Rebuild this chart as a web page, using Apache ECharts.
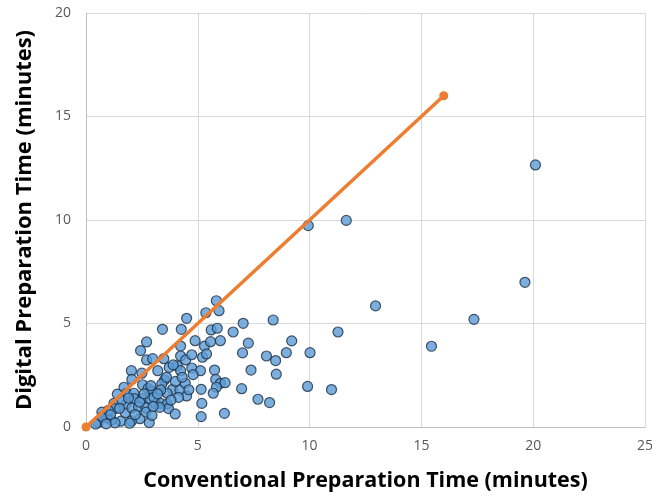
<!DOCTYPE html>
<html>
<head>
<meta charset="utf-8">
<script src="https://cdn.jsdelivr.net/npm/echarts@6/dist/echarts.min.js"></script>
<style>
  html, body { margin: 0; padding: 0; background: #fff; }
  #chart { width: 652px; height: 497px; }
</style>
</head>
<body>
<div id="chart"></div>
<script>
// conventional (x) vs digital (y) preparation time, minutes
const conventional = [
  5.83, 5.95, 5.36, 4.50, 3.42, 4.26, 7.03, 6.58, 5.60, 5.87,
  2.71, 2.44, 4.23, 4.88, 5.30, 5.57, 6.01, 7.26, 7.00, 2.71,
  2.98, 3.48, 4.23, 4.46, 4.73, 5.21, 5.39, 2.03, 3.21, 3.72,
  4.08, 4.23, 4.73, 5.12, 4.79, 5.75, 5.80, 6.01, 6.22, 5.83,
  5.69, 6.96, 2.05, 1.70, 2.53, 3.51, 3.39, 2.77, 2.95, 3.87,
  4.20, 4.44, 4.50, 4.14, 3.63, 3.34, 5.15, 5.18, 5.15, 6.19,
  2.83, 1.25, 1.40, 1.82, 2.14, 2.17, 2.53, 2.86, 3.13, 3.34,
  3.63, 3.69, 3.99, 2.41, 2.03, 1.55, 1.13, 0.71, 0.95, 0.54,
  1.76, 1.31, 1.79, 2.05, 2.35, 2.68, 2.68, 3.04, 3.30, 2.95,
  9.94, 11.64, 12.95, 15.45, 8.37, 9.20, 11.27, 8.96, 10.02, 8.07,
  8.48, 7.38, 8.51, 7.69, 8.21, 9.91, 10.98, 20.10, 19.63, 17.35,
  0.43, 0.73, 1.95, 3.00, 2.40, 1.60, 1.00, 3.60, 4.00, 4.60,
  3.90, 2.90, 1.90, 1.10, 1.50, 2.20, 2.60, 3.20, 3.80, 4.30,
  1.30, 0.90, 2.50
];
const digital = [
  6.10, 5.62, 5.52, 5.25, 4.72, 4.72, 5.01, 4.59, 4.69, 4.77,
  4.11, 3.69, 3.91, 4.17, 3.91, 4.12, 4.17, 4.05, 3.58, 3.24,
  3.30, 3.30, 3.43, 3.24, 3.49, 3.37, 3.53, 2.72, 2.72, 2.88,
  2.95, 2.72, 2.85, 2.72, 2.53, 2.75, 2.30, 2.11, 2.14, 1.92,
  1.63, 1.85, 2.30, 1.92, 2.04, 2.27, 2.08, 1.85, 1.75, 1.82,
  1.79, 2.11, 1.50, 1.43, 1.63, 1.79, 1.82, 1.14, 0.50, 0.66,
  0.21, 1.14, 1.59, 1.63, 1.63, 1.37, 1.37, 1.37, 1.11, 1.14,
  1.11, 0.89, 0.63, 0.40, 0.28, 0.28, 0.34, 0.72, 0.43, 0.21,
  0.69, 0.89, 1.11, 0.92, 0.98, 0.92, 0.72, 1.43, 0.95, 0.56,
  9.73, 9.98, 5.85, 3.90, 5.17, 4.16, 4.59, 3.59, 3.59, 3.43,
  3.21, 2.75, 2.55, 1.34, 1.18, 1.96, 1.81, 12.66, 6.99, 5.20,
  0.14, 0.50, 0.18, 1.00, 1.20, 1.30, 0.80, 2.40, 2.20, 1.80,
  3.00, 2.00, 1.40, 0.60, 0.90, 0.60, 1.60, 1.60, 1.30, 2.40,
  0.20, 0.15, 2.60
];
// reference line endpoints
const lineX = [0, 16];
const lineY = [0, 16];

const points = conventional.map((x, i) => [x, digital[i]]);
const linePts = lineX.map((x, i) => [x, lineY[i]]);

const chart = echarts.init(document.getElementById('chart'), null, { renderer: 'canvas' });
const labelStyle = { color: '#595959', fontSize: 14, fontFamily: 'Open Sans' };
const nameFont = { color: '#000', fontWeight: 'bold', fontFamily: 'Open Sans' };

chart.setOption({
  animation: false,
  grid: { left: 86, right: 7, top: 13, bottom: 70, outerBoundsMode: 'none' },
  xAxis: {
    type: 'value',
    min: 0, max: 25, interval: 5,
    name: 'Conventional Preparation Time (minutes)',
    nameLocation: 'middle',
    nameGap: 43,
    nameTextStyle: Object.assign({ fontSize: 21.5 }, nameFont),
    axisLine: { show: true, lineStyle: { color: '#BFBFBF' } },
    axisTick: { show: false },
    axisLabel: Object.assign({ margin: 12 }, labelStyle),
    splitLine: { show: true, lineStyle: { color: '#D9D9D9' } }
  },
  yAxis: {
    type: 'value',
    min: 0, max: 20, interval: 5,
    name: 'Digital Preparation Time (minutes)',
    nameLocation: 'middle',
    nameGap: 50,
    nameRotate: 90,
    nameTextStyle: Object.assign({ fontSize: 22 }, nameFont),
    axisLine: { show: true, lineStyle: { color: '#BFBFBF' } },
    axisTick: { show: false },
    axisLabel: Object.assign({ margin: 15 }, labelStyle),
    splitLine: { show: true, lineStyle: { color: '#D9D9D9' } }
  },
  series: [
    {
      type: 'scatter',
      data: points,
      symbol: 'circle',
      symbolSize: 10,
      itemStyle: { color: '#5B9BD5', borderColor: '#1C2E44', borderWidth: 1.2 }
    },
    {
      type: 'line',
      data: linePts,
      symbol: 'circle',
      symbolSize: 9,
      lineStyle: { color: '#ED7D31', width: 3.5 },
      itemStyle: { color: '#ED7D31' }
    }
  ]
});
</script>
</body>
</html>
